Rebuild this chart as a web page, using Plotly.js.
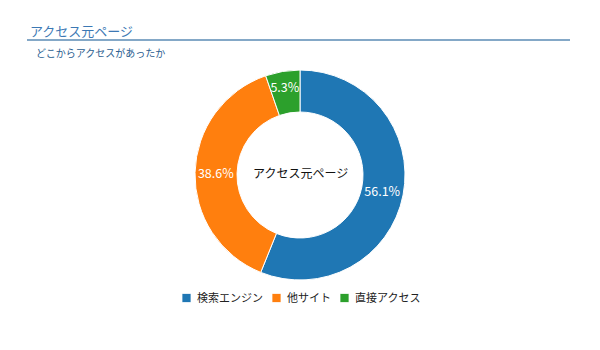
<!DOCTYPE html>
<html><head><meta charset="utf-8">
<script src="https://cdn.plot.ly/plotly-3.0.1.min.js"></script>
<style>html,body{margin:0;padding:0;background:#fff}#chart{width:600px;height:350px}</style>
</head><body><div id="chart"></div>
<script>
const categories = ["検索エンジン", "他サイト", "直接アクセス"];
const values = [56.1, 38.6, 5.3];
const colors = ["#1f77b4", "#ff7f0e", "#2ca02c"];
const titleText = "アクセス元ページ";
const subtitleText = "どこからアクセスがあったか";
const centerText = "アクセス元ページ";
const F = "'Noto Sans CJK JP', 'Noto Sans', sans-serif";

const trace = {
  type: "pie",
  labels: categories,
  values: values,
  hole: 0.6,
  sort: false,
  direction: "clockwise",
  rotation: 0,
  textinfo: "percent",
  texttemplate: "%{percent:.1%}",
  textposition: "inside",
  insidetextorientation: "horizontal",
  textfont: {family: F, size: 12.5, color: "#ffffff"},
  marker: {colors: colors, line: {color: "#ffffff", width: 1}},
  domain: {x: [195/600, 405/600], y: [0.2, 0.8]}
};

const layout = {
  width: 600, height: 350,
  margin: {l: 0, r: 0, t: 0, b: 0},
  paper_bgcolor: "#fff",
  font: {family: F, color: "#333"},
  uniformtext: {minsize: 12.5, mode: "show"},
  title: {text: titleText, x: 30/600, xanchor: "left", y: 1 - 31/350, yanchor: "middle",
          font: {family: F, size: 13, color: "#3c78b4"}},
  showlegend: true,
  legend: {orientation: "h", x: 0.5, xanchor: "center", y: 1 - 298/350, yanchor: "middle",
           font: {family: F, size: 11, color: "#222"}, traceorder: "normal"},
  shapes: [{type: "line", xref: "paper", yref: "paper", x0: 27/600, x1: 570/600,
            y0: 1 - 40/350, y1: 1 - 40/350, line: {color: "#5b8bb5", width: 1.5}}],
  annotations: [
    {text: subtitleText, xref: "paper", yref: "paper", x: 34/600, xanchor: "left",
     y: 1 - 52/350, yanchor: "middle", showarrow: false,
     font: {family: F, size: 10, color: "#2a5d8f"}},
    {text: centerText, xref: "paper", yref: "paper", x: 0.5, y: 1 - 172/350,
     xanchor: "center", yanchor: "middle", showarrow: false,
     font: {family: F, size: 12, color: "#111"}}
  ]
};

const gd = document.getElementById("chart");
Plotly.newPlot(gd, [trace], layout, {displayModeBar: false, staticPlot: true}).then(() => {
  // tighten legend spacing to match the compact reference legend
  const legend = gd.querySelector("g.legend");
  if (!legend) return;
  const items = legend.querySelectorAll("g.traces");
  let x = null;
  items.forEach((g) => {
    const m = /translate\(\s*([-\d.]+)[ ,]+([-\d.]+)/.exec(g.getAttribute("transform") || "");
    const gx = m ? parseFloat(m[1]) : 0, gy = m ? parseFloat(m[2]) : 0;
    if (x === null) x = gx;
    g.querySelectorAll("g.legendpoints path").forEach(p => p.setAttribute("transform", "translate(4.5,0) scale(0.75)"));
    const t = g.querySelector("text.legendtext");
    t.setAttribute("x", 15);
    const w = t.getComputedTextLength();
    g.setAttribute("transform", `translate(${x},${gy})`);
    x += 15 + w + 9;
  });
  const first = items[0].querySelector("g.legendpoints path");
  const r = first.getBoundingClientRect();
  const gr = gd.getBoundingClientRect();
  const dx = 182 - (r.left - gr.left);
  const lm = /translate\(\s*([-\d.]+)[ ,]+([-\d.]+)/.exec(legend.getAttribute("transform") || "");
  if (lm) legend.setAttribute("transform", `translate(${parseFloat(lm[1]) + dx},${lm[2]})`);
  gd.querySelectorAll("clipPath[id^='legend'] rect").forEach(c => c.setAttribute("width", 1000));
});
</script></body></html>
